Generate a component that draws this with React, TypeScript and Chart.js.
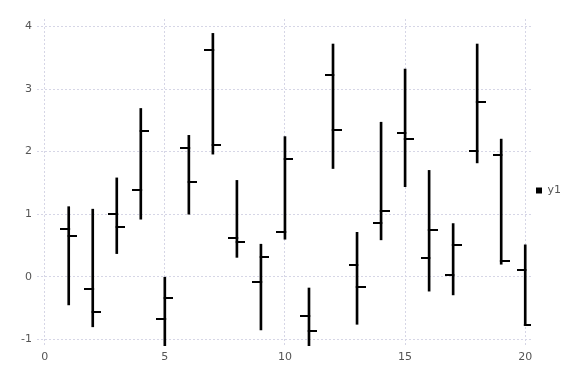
import React, { useEffect, useRef } from "react";
import { Chart, registerables } from "chart.js";

Chart.register(...registerables);

const xs = [1, 2, 3, 4, 5, 6, 7, 8, 9, 10, 11, 12, 13, 14, 15, 16, 17, 18, 19, 20];
const openV = [0.76, -0.19, 1.0, 1.38, -0.68, 2.05, 3.63, 0.62, -0.08, 0.71, -0.62, 3.22, 0.19, 0.86, 2.29, 0.3, 0.03, 2.01, 1.95, 0.11];
const highV = [1.12, 1.08, 1.58, 2.69, 0.0, 2.26, 3.89, 1.54, 0.52, 2.24, -0.18, 3.72, 0.71, 2.47, 3.32, 1.7, 0.85, 3.72, 2.2, 0.51];
const lowV = [-0.45, -0.8, 0.37, 0.92, -1.13, 1.0, 1.96, 0.31, -0.85, 0.6, -1.13, 1.73, -0.76, 0.59, 1.44, -0.23, -0.29, 1.82, 0.2, -0.78];
const closeV = [0.65, -0.56, 0.8, 2.33, -0.34, 1.51, 2.1, 0.55, 0.31, 1.88, -0.86, 2.34, -0.16, 1.05, 2.2, 0.74, 0.51, 2.79, 0.25, -0.77];
const xTicks = [0, 5, 10, 15, 20];
const yTicks = [-1, 0, 1, 2, 3, 4];
const seriesName = "y1";

function tickImage(side: "left" | "right"): HTMLCanvasElement {
  const c = document.createElement("canvas");
  c.width = 17;
  c.height = 2;
  const g = c.getContext("2d")!;
  g.fillStyle = "#000";
  if (side === "left") g.fillRect(0, 0, 9.5, 2);
  else g.fillRect(7.5, 0, 9.5, 2);
  return c;
}

const legendShift = {
  id: "legendShift",
  afterLayout(chart: any) {
    const l = chart.legend;
    if (l) {
      l.top -= 11;
      l.bottom -= 11;
    }
  },
};

export default function App() {
  const ref = useRef<HTMLCanvasElement>(null);
  useEffect(() => {
    if (!ref.current) return;
    const font = { family: "DejaVu Sans", size: 11 };
    const gridColor = "#d6d6e6";
    const chart = new Chart(ref.current, {
      type: "bar",
      plugins: [legendShift],
      data: {
        datasets: [
          {
            label: seriesName,
            data: xs.map((x, i) => ({ x, y: [lowV[i], highV[i]] })) as any,
            backgroundColor: "#000",
            borderWidth: 0,
            barThickness: 2,
          },
          {
            type: "scatter",
            label: "open",
            data: xs.map((x, i) => ({ x, y: openV[i] })),
            pointStyle: tickImage("left") as any,
            showLine: false,
          } as any,
          {
            type: "scatter",
            label: "close",
            data: xs.map((x, i) => ({ x, y: closeV[i] })),
            pointStyle: tickImage("right") as any,
            showLine: false,
          } as any,
        ],
      },
      options: {
        animation: false,
        responsive: true,
        maintainAspectRatio: false,
        layout: { padding: { left: 0, right: 5, top: 19, bottom: 0 } },
        plugins: {
          tooltip: { enabled: false },
          legend: {
            position: "right",
            labels: {
              boxWidth: 6,
              boxHeight: 6,
              padding: 5,
              color: "#555",
              font,
              filter: (item: any) => item.datasetIndex === 0,
            },
          },
        },
        scales: {
          x: {
            type: "linear",
            min: -0.32,
            max: 20.24,
            offset: false,
            border: { display: false, dash: [2, 2] },
            grid: { color: gridColor, drawTicks: false, offset: false },
            ticks: { color: "#555", font, padding: 5, maxRotation: 0 },
            afterBuildTicks: (s: any) => {
              s.ticks = xTicks.map((v) => ({ value: v }));
            },
            afterFit: (s: any) => {
              s.height = 38;
            },
          },
          y: {
            type: "linear",
            min: -1.107,
            max: 4.12,
            border: { display: false, dash: [2, 2] },
            grid: { color: gridColor, drawTicks: false },
            ticks: { color: "#555", font, padding: 5 },
            afterBuildTicks: (s: any) => {
              s.ticks = yTicks.map((v) => ({ value: v }));
            },
            afterFit: (s: any) => {
              s.width = 37;
            },
          },
        },
      },
    });
    return () => chart.destroy();
  }, []);
  return (
    <div style={{ position: "fixed", left: 0, top: 0, width: 576, height: 384, background: "#fff" }}>
      <canvas ref={ref} />
    </div>
  );
}
